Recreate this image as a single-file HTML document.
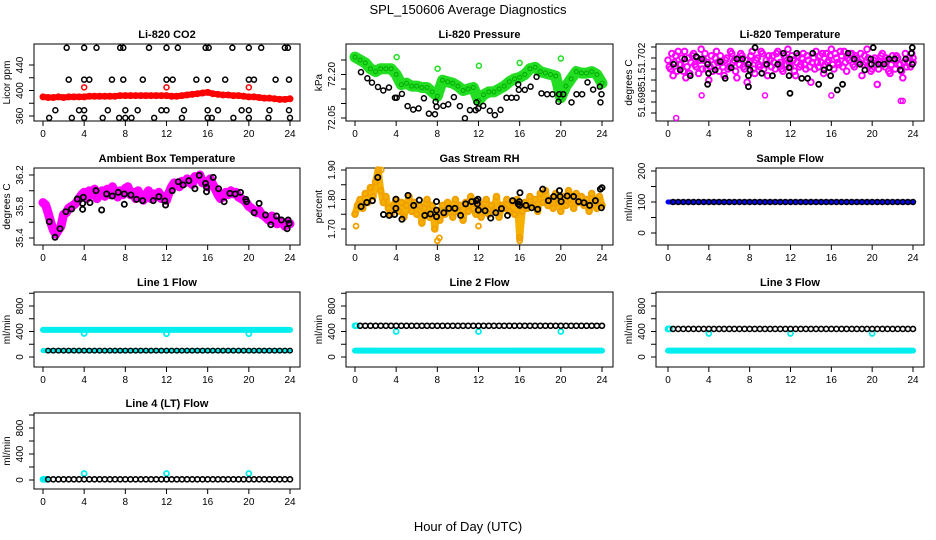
<!DOCTYPE html>
<html><head><meta charset="utf-8"><style>
html,body{margin:0;padding:0;background:#fff;}
svg{display:block;font-family:"Liberation Sans",sans-serif;}
</style></head><body>
<svg id="c" width="936" height="540" viewBox="0 0 936 540" xmlns="http://www.w3.org/2000/svg">
<text x="468" y="14" text-anchor="middle" font-size="13">SPL_150606  Average Diagnostics</text>
<text x="468" y="531" text-anchor="middle" font-size="13">Hour of Day (UTC)</text>
</svg>
<script>
// ---------- data ----------
const co2Red = [390,389,389,390,389,390,390,390,390,391,391,391,391,391,391,392,392,
392,392,392,392,392,392,392,392,391,391,392,393,394,395,396,397,
395,394,393,393,392,392,391,390,390,389,388,388,387,386,386,387];
const co2RedOutHours = [4,12,20];
const co2RedOutVals = [405,405,405];
const co2BlackHours = [2.3,4,5.2,7.5,7.8,10.3,12,13.1,15.8,16.1,18.4,20,21.2,23.5,23.8,
2.5,4,4.5,6.7,7.8,9.7,12,12.6,14.9,16,17.7,20,20.5,22.6,23.9,
1.2,3.5,4,6.3,8,9.2,11.5,12,13.7,16,17,19.3,20,22,23.9,
0.6,2.8,4,5.8,7.4,8,8.6,10.8,13.5,16,16.4,18.5,20,21.9,24];
const co2BlackVals = [467,467,467,467,467,467,467,467,467,467,467,467,467,467,467,
417,417,417,417,417,417,417,417,417,417,417,417,417,417,417,
369,369,369,369,369,369,369,369,369,369,369,369,369,369,369,
357,357,357,357,357,357,357,357,357,357,357,357,357,357,357];

const presGreen = [72.26,72.25,72.24,72.22,72.21,72.22,72.22,72.22,72.2,72.165,72.17,72.16,72.16,72.155,72.155,72.14,72.125,
72.18,72.175,72.17,72.16,72.145,72.15,72.155,72.11,72.13,72.14,72.14,72.15,72.16,72.175,72.185,72.19,
72.2,72.22,72.225,72.21,72.205,72.2,72.195,72.12,72.16,72.185,72.21,72.205,72.205,72.21,72.2,72.17];
const presGreenOutHours = [4.05,8.03,12.04,16,20];
const presGreenOutVals = [72.26,72.22,72.23,72.24,72.255];
const presBlackHours = [0.58,1.2,1.65,2.23,2.75,3.3,3.88,4.05,4.56,5.11,5.66,6.18,6.7,7.18,7.77,7.83,7.93,8.58,9.06,9.61,10.19,10.68,11.17,11.72,11.81,11.97,12.46,13.1,13.59,14.14,14.72,15.21,15.7,15.86,15.92,16.5,17.06,17.64,18.12,18.67,19.19,19.77,19.84,20.23,21.04,21.52,22.07,22.59,23.14,23.79,23.85,23.95];
const presBlackVals = [72.208,72.187,72.172,72.157,72.145,72.155,72.12,72.12,72.133,72.091,72.079,72.083,72.118,72.065,72.063,72.106,72.089,72.092,72.097,72.122,72.091,72.049,72.077,72.077,72.104,72.083,72.092,72.075,72.06,72.078,72.12,72.12,72.12,72.166,72.147,72.147,72.158,72.192,72.135,72.132,72.132,72.106,72.132,72.132,72.104,72.132,72.132,72.173,72.148,72.158,72.104,72.132];

const tempMag = [51.7018,51.7010,51.7004,51.7022,51.7026,51.7014,51.7008,51.7002,51.7020,51.7016,
51.7024,51.7012,51.7006,51.7028,51.7018,51.7010,51.7000,51.7022,51.7014,51.7026,
51.7008,51.7016,51.7004,51.7020,51.7012,51.7024,51.7018,51.7002,51.7014,51.7022,
51.7010,51.6998,51.7016,51.7026,51.7006,51.7020,51.7012,51.7024,51.7014,51.7004,
51.7018,51.7022,51.7010,51.7026,51.7016,51.7008,51.7020,51.7028,51.7012,51.7018,
51.7004,51.7022,51.7014,51.7024,51.7010,51.7018,51.6998,51.7020,51.7026,51.7012,
51.7016,51.7006,51.7024,51.7018,51.7028,51.7010,51.7020,51.7014,51.7022,51.7026,
51.7008,51.7018,51.7024,51.7012,51.7020,51.7016,51.7004,51.7022,51.7028,51.7014,
51.7010,51.7020,51.6996,51.7016,51.7024,51.7012,51.7018,51.7006,51.7022,51.7010,
51.7020,51.7014,51.7002,51.7024,51.7016,51.7012,51.7020];
const tempMag2 = [51.7012,51.7024,51.7016,51.7008,51.7014,51.7020,51.7026,51.7012,51.7006,51.7022,
51.7014,51.7020,51.7018,51.7010,51.7024,51.7016,51.7012,51.7008,51.7020,51.7016,
51.7022,51.7012,51.7018,51.7010,51.7026,51.7016,51.7008,51.7020,51.7024,51.7012,
51.7018,51.7014,51.7022,51.7010,51.7018,51.7014,51.7026,51.7010,51.7018,51.7022,
51.7012,51.7016,51.7024,51.7014,51.7010,51.7022,51.7014,51.7016,51.7022,51.7008,
51.7016,51.7012,51.7020,51.7014,51.7022,51.7012,51.7016,51.7010,51.7016,51.7022,
51.7024,51.7014,51.7016,51.7022,51.7014,51.7024,51.7016,51.7026,51.7012,51.7016,
51.7020,51.7024,51.7014,51.7022,51.7016,51.7024,51.7014,51.7016,51.7020,51.7008,
51.7018,51.7014,51.7010,51.7022,51.7016,51.7020,51.7008,51.7014,51.7018,51.7022,
51.7014,51.7008,51.7016,51.7012,51.7020,51.7024,51.7016];
const tempMagOutHours = [0.8,3.3,9.5,16,22.8,23.0];
const tempMagOutVals = [51.69655,51.6986,51.6986,51.6986,51.6981,51.6981];
const tempBlackHours = [0.55,1.2,1.63,2.18,2.77,3.32,3.88,3.88,3.97,4.62,5.11,5.6,6.19,6.74,7.3,7.88,7.88,7.88,8.04,8.53,9.19,9.67,10.23,10.75,11.3,11.86,11.86,11.95,11.95,12.61,13.1,13.68,14.18,14.76,15.28,15.8,15.93,16.58,17.1,17.65,18.24,18.8,19.28,19.87,19.93,20.1,20.62,21.17,21.66,22.22,22.77,23.29,23.84,23.93,23.93];
const tempBlackVals = [51.70143,51.70091,51.70191,51.70039,51.70212,51.70191,51.70143,51.69961,51.70061,51.70091,51.70167,51.70015,51.70112,51.70191,51.70191,51.70143,51.70039,51.69939,51.70091,51.70294,51.70061,51.70143,51.70039,51.70143,51.70243,51.70112,51.70039,51.70191,51.69879,51.70243,51.70015,51.70015,51.70243,51.69961,51.70091,51.70112,51.70039,51.69909,51.69961,51.70243,51.70191,51.70143,51.70091,51.70191,51.70143,51.70294,51.70143,51.70143,51.70191,51.70191,51.70091,51.70191,51.70243,51.70294,51.70143];

const ambMag = [35.85,35.82,35.72,35.6,35.5,35.45,35.5,35.55,35.7,
35.72,35.78,35.8,35.82,35.85,35.9,35.95,35.98,
35.9,36.0,35.95,36.02,35.9,35.97,36.0,35.93,36.02,35.95,36.05,35.98,35.92,36.0,35.95,36.03,
36.05,35.95,35.98,35.9,36.0,35.93,35.88,35.95,36.0,35.9,35.96,35.92,35.98,35.9,35.93,35.88,
35.98,36.05,36.1,36.07,36.05,36.12,36.1,36.15,36.12,36.08,36.18,36.15,36.2,36.1,36.12,36.05,
36.15,36.08,36.02,35.95,35.9,35.92,35.98,35.95,36.0,35.96,35.98,35.92,35.9,35.88,35.85,35.8,
35.78,35.75,35.72,35.75,35.7,35.68,35.65,35.62,35.68,35.6,35.58,35.62,35.6,35.55,35.6,35.58];
const ambBlackHours = [0.61,1.17,1.65,2.23,2.78,3.33,3.85,3.85,3.92,4.56,5.15,5.7,6.18,6.73,7.31,7.9,7.9,8.54,9.09,9.68,10.71,11.26,11.84,11.91,12.56,13.14,13.62,14.17,14.76,15.18,15.79,15.89,15.89,16.54,17.06,17.6,18.16,18.67,19.19,19.71,19.77,20.52,21.0,21.62,22.14,22.69,23.17,23.72,23.82,23.92];
const ambBlackVals = [35.607,35.409,35.518,35.734,35.768,35.895,35.84,35.764,35.917,35.849,36.001,35.756,35.959,35.933,35.98,35.959,35.828,35.946,35.891,35.874,35.874,35.925,35.87,35.819,36.001,36.115,36.073,36.128,36.026,36.196,36.094,36.044,35.988,36.17,36.026,35.861,35.967,35.959,35.98,35.891,35.861,35.722,35.84,35.692,35.569,35.679,35.629,35.518,35.629,35.586];

const rhOrange = [1.75,1.78,1.80,1.77,1.82,1.79,1.84,1.81,1.86,1.90,1.83,1.79,1.81,1.77,1.75,1.78,
1.80,1.76,1.79,1.74,1.78,1.81,1.76,1.79,1.75,1.78,1.72,1.77,1.80,1.74,1.78,1.70,
1.76,1.73,1.78,1.75,1.79,1.77,1.74,1.80,1.76,1.78,1.73,1.79,1.76,1.81,1.77,1.75,
1.79,1.74,1.77,1.80,1.75,1.78,1.76,1.81,1.74,1.78,1.77,1.80,1.76,1.79,1.75,1.80,
1.67,1.76,1.79,1.77,1.81,1.78,1.80,1.76,1.82,1.79,1.83,1.78,1.80,1.77,1.82,1.79,
1.76,1.81,1.78,1.83,1.80,1.77,1.82,1.79,1.81,1.78,1.80,1.76,1.82,1.79,1.77,1.81,1.78];
const rhOrangeOutHours = [0.1,8.0,8.2,12.0,16.0,2.55];
const rhOrangeOutVals = [1.71,1.66,1.67,1.71,1.66,1.90];
const rhBlackHours = [0.59,1.14,1.69,2.21,2.77,3.32,3.84,3.97,3.97,4.56,5.15,5.7,6.25,6.78,7.33,7.92,7.92,7.92,8.63,9.12,9.71,10.26,10.75,11.34,11.79,11.89,11.95,11.99,12.64,13.19,13.68,14.23,14.82,15.31,15.86,15.96,16.0,16.03,16.61,17.17,17.75,18.24,18.79,19.31,19.87,19.93,20.03,20.62,21.24,21.73,22.25,22.8,23.36,23.84,23.94,24.0];
const rhBlackVals = [1.776,1.790,1.796,1.875,1.749,1.746,1.749,1.801,1.770,1.733,1.814,1.780,1.798,1.746,1.751,1.793,1.764,1.742,1.755,1.770,1.770,1.746,1.785,1.793,1.796,1.785,1.801,1.764,1.762,1.737,1.755,1.769,1.746,1.796,1.785,1.793,1.780,1.823,1.780,1.772,1.767,1.835,1.796,1.810,1.830,1.810,1.793,1.812,1.810,1.793,1.789,1.780,1.796,1.835,1.772,1.840];

const sampleBlue = [100,100,100,100,100,100,100,100,100,100,100,100,100,100,100,100,100,100,100,100,100,100,100,100,100,100,100,100,100,100,100,100,100,100,100,100,100,100,100,100,100,100,100,100,100,100,100,100,100];
const sampleBlack = [null,100,100,100,100,100,100,100,100,100,100,100,100,100,100,100,100,100,100,100,100,100,100,100,100,100,100,100,100,100,100,100,100,100,100,100,100,100,100,100,100,100,100,100,100,100,100,100,100];

const line1CyanHigh = [425,425,425,425,425,425,425,425,425,425,425,425,425,425,425,425,425,425,425,425,425,425,425,425,425,425,425,425,425,425,425,425,425,425,425,425,425,425,425,425,425,425,425,425,425,425,425,425,425];
const line1CyanLow = [100,100,100,100,100,100,100,100,100,100,100,100,100,100,100,100,100,100,100,100,100,100,100,100,100,100,100,100,100,100,100,100,100,100,100,100,100,100,100,100,100,100,100,100,100,100,100,100,100];
const line1Black = [null,100,100,100,100,100,100,100,100,100,100,100,100,100,100,100,100,100,100,100,100,100,100,100,100,100,100,100,100,100,100,100,100,100,100,100,100,100,100,100,100,100,100,100,100,100,100,100,100];
const line1DipHours = [4,12,20];
const line1DipVals = [370,365,365];

const line2Black = [null,490,490,490,490,490,490,490,490,490,490,490,490,490,490,490,490,490,490,490,490,490,490,490,490,490,490,490,490,490,490,490,490,490,490,490,490,490,490,490,490,490,490,490,490,490,490,490,490];
const line2CyanLow = [100,100,100,100,100,100,100,100,100,100,100,100,100,100,100,100,100,100,100,100,100,100,100,100,100,100,100,100,100,100,100,100,100,100,100,100,100,100,100,100,100,100,100,100,100,100,100,100,100];
const line2CyanHours = [0,0.15,4,12,20];
const line2CyanVals = [490,490,400,400,400];

const line3Black = [null,440,440,440,440,440,440,440,440,440,440,440,440,440,440,440,440,440,440,440,440,440,440,440,440,440,440,440,440,440,440,440,440,440,440,440,440,440,440,440,440,440,440,440,440,440,440,440,440];
const line3CyanLow = [100,100,100,100,100,100,100,100,100,100,100,100,100,100,100,100,100,100,100,100,100,100,100,100,100,100,100,100,100,100,100,100,100,100,100,100,100,100,100,100,100,100,100,100,100,100,100,100,100];
const line3CyanHours = [0,0.15,4,12,20];
const line3CyanVals = [440,440,370,370,370];

const line4Black = [null,10,10,10,10,10,10,10,10,10,10,10,10,10,10,10,10,10,10,10,10,10,10,10,10,10,10,10,10,10,10,10,10,10,10,10,10,10,10,10,10,10,10,10,10,10,10,10,10];
const line4CyanHours = [0,0.15,0.3,4,12,20];
const line4CyanVals = [10,10,10,100,100,100];

const hourTicks = [0,4,8,12,16,20,24];

// ---------- drawing ----------
const svg = document.getElementById('c');
const NS = 'http://www.w3.org/2000/svg';
function mk(tag, attrs, parent){
  const e = document.createElementNS(NS, tag);
  for (const k in attrs) e.setAttribute(k, attrs[k]);
  (parent||svg).appendChild(e);
  return e;
}
const colX = [{b0:34,b1:300,h0:43,h1:290},{b0:346,b1:613,h0:355,h1:602},{b0:656,b1:924,h0:668,h1:913}];
const rowY = [{t:44,b:121},{t:168,b:245},{t:292,b:367},{t:413,b:489}];

function makePanel(name, title, col, row, vA, yA, vB, yB, yTicks, yLabels, ylab){
  const c = colX[col], r = rowY[row];
  const g = mk('g', {});
  
  
  const p = {g, c, r,
    x: h => c.h0 + (c.h1 - c.h0) * h / 24,
    y: v => yA + (v - vA) * (yB - yA) / (vB - vA)};
  const t = mk('text', {x:(c.b0+c.b1)/2, y:r.t-6, 'text-anchor':'middle', 'font-size':11, 'font-weight':'bold'}, g);
  t.textContent = title;
  
  
  const box = mk('rect', {x:c.b0, y:r.t, width:c.b1-c.b0, height:r.b-r.t, fill:'none', stroke:'#000', 'stroke-width':1}, g);
  
  
  const xa = mk('g', {}, g);
  
  
  hourTicks.forEach(h => {
    const X = p.x(h);
    mk('line', {x1:X, x2:X, y1:r.b, y2:r.b+5, stroke:'#000'}, xa);
    const tl = mk('text', {x:X, y:r.b+16, 'text-anchor':'middle', 'font-size':10}, xa);
    tl.textContent = h;
  });
  const ya = mk('g', {}, g);
  
  
  yTicks.forEach(v => {
    const Y = p.y(v);
    if (Y < r.t - 1 || Y > r.b + 1) return;
    mk('line', {x1:c.b0-5, x2:c.b0, y1:Y, y2:Y, stroke:'#000'}, ya);
  });
  yLabels.forEach(([v, txt, yo]) => {
    const Y = yo !== undefined ? yo : p.y(v);
    const X = c.b0 - 11;
    const tl = mk('text', {x:X, y:Y, 'text-anchor':'middle', 'font-size':10, transform:`rotate(-90 ${X} ${Y})`}, ya);
    tl.textContent = txt;
  });
  const yl = mk('text', {x:c.b0-24, y:(r.t+r.b)/2, 'text-anchor':'middle', 'font-size':10, transform:`rotate(-90 ${c.b0-24} ${(r.t+r.b)/2})`}, g);
  yl.textContent = ylab;
  
  
  return p;
}
function pts(p, hours, vals, color, rad, sw, nm, shift){
  const g = mk('g', {}, p.g);
  
  
  const off = shift || 0;
  vals.forEach((v, i) => {
    if (v === null) return;
    const h = hours ? hours[i] : Math.min(24, i * 24 / (vals.length - 1) + off);
    mk('circle', {cx:p.x(h), cy:p.y(v), r:rad, fill:'none', stroke:color, 'stroke-width':sw}, g);
  });
  return g;
}
function band(p, vals, color, w, nm){
  const arr = [];
  vals.forEach((v, i) => { if (v !== null) arr.push(p.x(i*24/(vals.length-1)).toFixed(1)+','+p.y(v).toFixed(1)); });
  const pl = mk('polyline', {points:arr.join(' '), fill:'none', stroke:color, 'stroke-width':w, 'stroke-linejoin':'round', 'stroke-linecap':'round'}, p.g);
  
  
}

// Panel 1: CO2
let p = makePanel('co2', 'Li-820 CO2', 0, 0, 360, 116, 440, 65, [360,380,400,420,440],
  [[360,'360'],[400,'400'],[440,'440']], 'Licor ppm');
band(p, co2Red, '#ff0000', 6, 'co2-red-band');
pts(p, null, co2Red, '#ff0000', 2.5, 2, 'co2-red-points');
pts(p, co2RedOutHours, co2RedOutVals, '#ff0000', 2.5, 1.5, 'co2-red-outliers');
pts(p, co2BlackHours, co2BlackVals, '#000', 2.5, 1.5, 'co2-black-points');

// Panel 2: Pressure
p = makePanel('pressure', 'Li-820 Pressure', 1, 0, 72.05, 118, 72.25, 60, [72.05,72.10,72.15,72.20,72.25],
  [[72.05,'72.05'],[72.20,'72.20']], 'kPa');
band(p, presGreen, '#22dd22', 11, 'pressure-green-band');
pts(p, null, presGreen, '#00aa00', 2, 1, 'pressure-green-points');
pts(p, presGreenOutHours, presGreenOutVals, '#22dd22', 2.5, 1.5, 'pressure-green-outliers');
pts(p, presBlackHours, presBlackVals, '#000', 2.5, 1.5, 'pressure-black-points');

// Panel 3: Li-820 Temperature
p = makePanel('li820-temp', 'Li-820 Temperature', 2, 0, 51.700, 80, 51.702, 58,
  [51.697,51.698,51.699,51.700,51.701,51.702,51.703],
  [[51.702,'51.702'],[51.700,'51.'],[51.698,'51.698']], 'degrees C');
pts(p, null, tempMag, '#ff00ff', 2.8, 2, 'li820-temp-magenta-points');
pts(p, null, tempMag2, '#ff00ff', 2.8, 2, 'li820-temp-magenta-points-2', 0.125);
pts(p, tempMagOutHours, tempMagOutVals, '#ff00ff', 2.5, 1.5, 'li820-temp-magenta-outliers');
pts(p, tempBlackHours, tempBlackVals, '#000', 2.5, 1.8, 'li820-temp-black-points');

// Panel 4: Ambient
p = makePanel('ambient-temp', 'Ambient Box Temperature', 0, 1, 35.4, 238, 36.2, 175,
  [35.4,35.6,35.8,36.0,36.2], [[35.4,'35.4'],[35.8,'35.8'],[36.2,'36.2']], 'degrees C');
band(p, ambMag, '#ff00ff', 9, 'ambient-magenta-band');
pts(p, null, ambMag, '#ff00ff', 3, 2.2, 'ambient-magenta-points');
pts(p, ambBlackHours, ambBlackVals, '#000', 2.6, 1.8, 'ambient-black-points');

// Panel 5: RH
p = makePanel('gas-rh', 'Gas Stream RH', 1, 1, 1.70, 229, 1.90, 170,
  [1.70,1.75,1.80,1.85,1.90], [[1.70,'1.70'],[1.80,'1.80'],[1.90,'1.90']], 'percent');
band(p, rhOrange, '#f5b000', 7, 'rh-orange-band');
pts(p, null, rhOrange, '#f0a000', 2.8, 2, 'rh-orange-points');
pts(p, rhOrangeOutHours, rhOrangeOutVals, '#f0a000', 2.5, 1.8, 'rh-orange-outliers');
pts(p, rhBlackHours, rhBlackVals, '#000', 2.6, 1.8, 'rh-black-points');

// Panel 6: Sample flow
p = makePanel('sample-flow', 'Sample Flow', 2, 1, 0, 233, 200, 171, [0,50,100,150,200],
  [[0,'0'],[100,'100'],[200,'200']], 'ml/min');
band(p, sampleBlue, '#0000ff', 5, 'sample-blue-band');
pts(p, null, sampleBlack, '#000', 2.5, 1.5, 'sample-black-points');

// Rows 3/4: line flows
const flowTicks = [0,200,400,600,800,1000];
const flowLabels = [[0,'0'],[400,'400'],[800,'800']];
p = makePanel('line1-flow', 'Line 1 Flow', 0, 2, 0, 357, 800, 306, flowTicks, flowLabels, 'ml/min');
band(p, line1CyanHigh, '#00eeee', 6, 'line1-cyan-high-band');
band(p, line1CyanLow, '#00eeee', 5, 'line1-cyan-low-band');
pts(p, line1DipHours, line1DipVals, '#00eeee', 2.5, 1.8, 'line1-cyan-dips');
pts(p, null, line1Black, '#000', 2.3, 1.4, 'line1-black-points');

p = makePanel('line2-flow', 'Line 2 Flow', 1, 2, 0, 357, 800, 306, flowTicks, flowLabels, 'ml/min');
band(p, line2CyanLow, '#00eeee', 6, 'line2-cyan-low-band');
pts(p, line2CyanHours, line2CyanVals, '#00eeee', 2.5, 1.8, 'line2-cyan-points');
pts(p, null, line2Black, '#000', 2.5, 1.6, 'line2-black-points');

p = makePanel('line3-flow', 'Line 3 Flow', 2, 2, 0, 357, 800, 306, flowTicks, flowLabels, 'ml/min');
band(p, line3CyanLow, '#00eeee', 6, 'line3-cyan-low-band');
pts(p, line3CyanHours, line3CyanVals, '#00eeee', 2.5, 1.8, 'line3-cyan-points');
pts(p, null, line3Black, '#000', 2.5, 1.6, 'line3-black-points');

p = makePanel('line4-flow', 'Line 4 (LT) Flow', 0, 3, 0, 480, 800, 428, flowTicks, flowLabels, 'ml/min');
pts(p, line4CyanHours, line4CyanVals, '#00eeee', 2.5, 1.8, 'line4-cyan-points');
pts(p, null, line4Black, '#000', 2.5, 1.6, 'line4-black-points');
</script>
</body></html>
